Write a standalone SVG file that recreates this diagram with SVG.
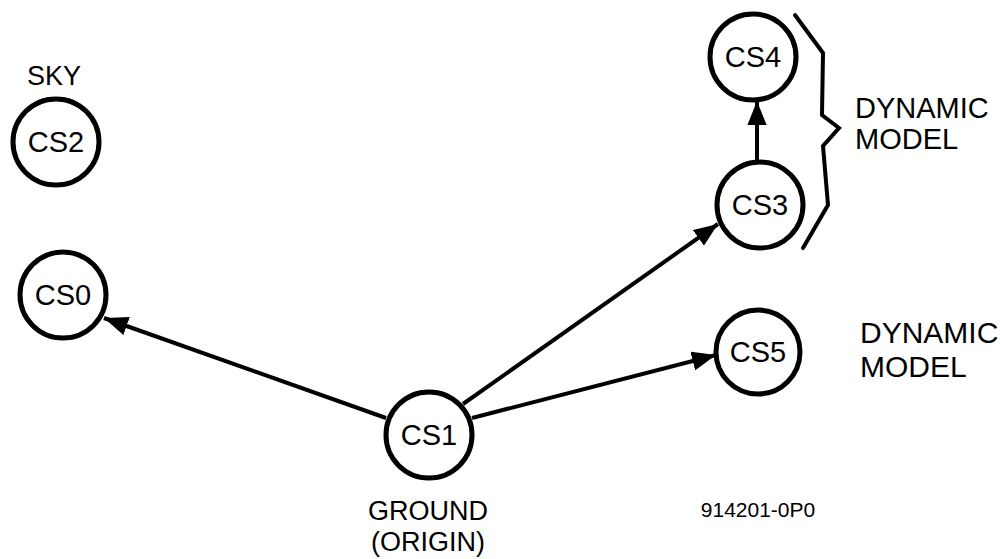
<svg xmlns="http://www.w3.org/2000/svg" width="1000" height="559" viewBox="0 0 1000 559">
  <style>
    .node circle { fill: #fff; stroke: #000; stroke-width: 5; }
    .node text, .label { font-family: "Liberation Sans", Arial, sans-serif; fill: #000; }
    .node text { font-size: 29px; text-anchor: middle; dominant-baseline: central; }
    .edge { stroke: #000; stroke-width: 4; fill: none; marker-end: url(#head); }
    .brace { stroke: #000; stroke-width: 4; fill: none; stroke-linejoin: miter; stroke-linecap: round; }
  </style>
  <defs>
    <marker id="head" viewBox="0 0 10 8" refX="10" refY="4" markerWidth="6" markerHeight="4.8" markerUnits="strokeWidth" orient="auto">
      <path d="M0,0 L10,4 L0,8 Z" fill="#000"/>
    </marker>
  </defs>
  <rect width="1000" height="559" fill="#fff"/>

  <!-- connectors -->
  <g id="connectors">
    <line class="edge" x1="386" y1="418" x2="104" y2="318"/>
    <line class="edge" x1="463" y1="404" x2="718" y2="224"/>
    <line class="edge" x1="472" y1="418" x2="716" y2="355"/>
    <line class="edge" x1="757" y1="161" x2="757" y2="101"/>
  </g>

  <!-- nodes -->
  <g id="cs2" class="node">
    <circle cx="56" cy="142" r="43"/>
    <text x="56" y="142">CS2</text>
  </g>
  <g id="cs0" class="node">
    <circle cx="63" cy="295" r="43"/>
    <text x="63" y="295">CS0</text>
  </g>
  <g id="cs4" class="node">
    <circle cx="753" cy="57" r="43"/>
    <text x="753" y="57">CS4</text>
  </g>
  <g id="cs3" class="node">
    <circle cx="760" cy="205" r="43"/>
    <text x="760" y="205">CS3</text>
  </g>
  <g id="cs5" class="node">
    <circle cx="758" cy="352" r="42"/>
    <text x="758" y="352">CS5</text>
  </g>
  <g id="cs1" class="node">
    <circle cx="429" cy="435" r="43"/>
    <text x="429" y="435">CS1</text>
  </g>

  <!-- brace grouping CS3 and CS4 -->
  <polyline class="brace" points="795,15 823,53 822,115 839,128 823,146 828,205 803,248"/>

  <!-- labels -->
  <text class="label" x="54" y="85" font-size="27" text-anchor="middle">SKY</text>
  <text class="label" x="855" y="118" font-size="29">DYNAMIC</text>
  <text class="label" x="855" y="149" font-size="29">MODEL</text>
  <text class="label" x="860" y="343" font-size="30">DYNAMIC</text>
  <text class="label" x="860" y="377" font-size="30">MODEL</text>
  <text class="label" x="428" y="520" font-size="27" text-anchor="middle">GROUND</text>
  <text class="label" x="428" y="551" font-size="27" text-anchor="middle">(ORIGIN)</text>
  <text class="label" x="758" y="517" font-size="21" text-anchor="middle">914201-0P0</text>
</svg>
